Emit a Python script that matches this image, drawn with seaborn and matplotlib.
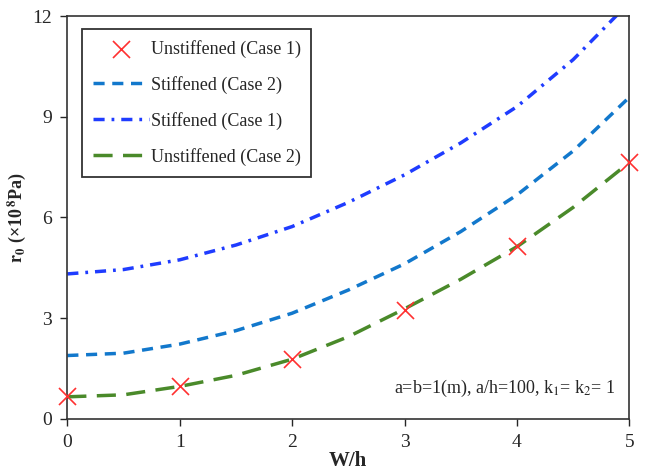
import numpy as np
import pandas as pd
import matplotlib
matplotlib.use("Agg")
import matplotlib.pyplot as plt
import seaborn as sns

# values (r0 in 1e8 Pa)
wh = [0, 0.5, 1, 1.5, 2, 2.5, 3, 3.5, 4, 4.5, 5]
stiff_case1 = [4.32, 4.45, 4.74, 5.18, 5.73, 6.45, 7.27, 8.22, 9.30, 10.70, 12.40]
stiff_case2 = [1.89, 1.96, 2.23, 2.63, 3.15, 3.84, 4.62, 5.58, 6.67, 7.98, 9.58]
unstiff_case2 = [0.66, 0.72, 0.97, 1.30, 1.78, 2.45, 3.28, 4.16, 5.13, 6.30, 7.64]

wh_pts = [0, 1, 2, 3, 4, 5]
unstiff_case1 = [0.68, 0.98, 1.80, 3.25, 5.15, 7.65]

lines = pd.DataFrame({"W/h": wh, "Stiffened (Case 1)": stiff_case1,
                      "Stiffened (Case 2)": stiff_case2,
                      "Unstiffened (Case 2)": unstiff_case2})
pts = pd.DataFrame({"W/h": wh_pts, "r0": unstiff_case1})

sns.set_style("ticks")
plt.rcParams['font.family'] = ['Liberation Serif', 'DejaVu Serif']
plt.rcParams['mathtext.fontset'] = 'stix'

fig = plt.figure(figsize=(6.51, 4.72), dpi=100)
ax = fig.add_axes([0.1034, 0.1123, 0.8633, 0.8538])

sns.scatterplot(data=pts, x="W/h", y="r0", ax=ax, marker="x", s=150,
                color="#ff3030", linewidth=1.2, zorder=5,
                label="Unstiffened (Case 1)")
ax.collections[0].set_clip_on(False)
sns.lineplot(data=lines, x="W/h", y="Stiffened (Case 2)", ax=ax,
             color="#1278cc", lw=2.5, dashes=False, label="Stiffened (Case 2)")
sns.lineplot(data=lines, x="W/h", y="Stiffened (Case 1)", ax=ax,
             color="#1f3cff", lw=2.5, dashes=False, label="Stiffened (Case 1)")
sns.lineplot(data=lines, x="W/h", y="Unstiffened (Case 2)", ax=ax,
             color="#4a8a2a", lw=2.5, dashes=False, label="Unstiffened (Case 2)")

ax.lines[0].set_dashes([3.2, 2.2])
ax.lines[1].set_dashes([3.2, 2.0, 0.8, 2.0])
ax.lines[2].set_dashes([5.5, 3.0])

ax.set_xlim(0, 5)
ax.set_ylim(0, 12)
ax.set_xticks(range(0, 6))
ax.set_yticks([0, 3, 6, 9, 12])
ax.tick_params(labelsize=14, length=5, width=1, direction="out", pad=6)
for s in ax.spines.values():
    s.set_linewidth(1.2)
    s.set_color("#333333")

ax.set_xlabel("W/h", fontsize=15, fontweight="bold", labelpad=0)
ax.set_ylabel(r"$\mathbf{r_0}$ (×10$^{\,\mathbf{8}}$Pa)", fontsize=13, fontweight="bold")
ax.yaxis.set_label_coords(-0.07, 0.5)

ax.text(0.975, 0.075, r"a=b=1(m), a/h=100, k$_1$= k$_2$= 1", transform=ax.transAxes,
        ha="right", va="center", fontsize=13)

leg = ax.legend(loc="upper left", bbox_to_anchor=(0.01, 0.99), fontsize=13,
                frameon=True, fancybox=False, handlelength=3.1, handletextpad=0.1,
                labelspacing=1.0, borderpad=0.6)
leg.get_frame().set_edgecolor("black")
leg.get_frame().set_linewidth(1.3)

fig.savefig("out.png", dpi=100)
